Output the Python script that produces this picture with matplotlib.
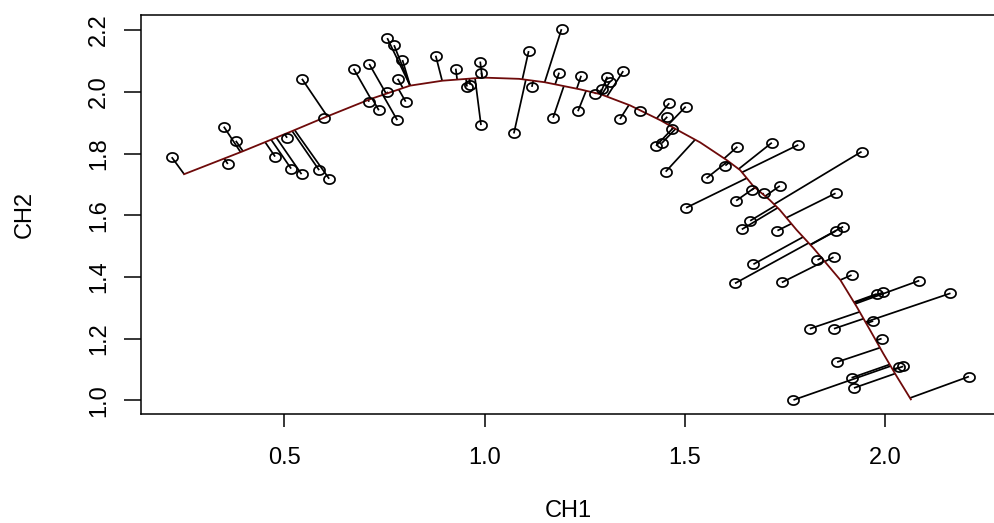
import numpy as np
import matplotlib
matplotlib.use("Agg")
import matplotlib.pyplot as plt
from matplotlib.path import Path
from matplotlib.collections import LineCollection

# observed points (CH1, CH2)
ch1 = [0.219, 0.349, 0.379, 0.359, 0.477, 0.517, 0.543, 0.507, 0.587, 0.612,
       0.544, 0.598, 0.673, 0.712, 0.736, 0.712, 0.782, 0.756, 0.783, 0.803,
       0.757, 0.774, 0.795, 0.878, 0.928, 0.956, 0.964, 0.989, 0.992, 0.991,
       1.073, 1.110, 1.118, 1.192, 1.186, 1.171, 1.241, 1.233, 1.276, 1.292,
       1.306, 1.313, 1.346, 1.338, 1.388, 1.461, 1.456, 1.502, 1.467, 1.428,
       1.442, 1.631, 1.452, 1.554, 1.601, 1.503, 1.717, 1.783, 1.628, 1.667,
       1.697, 1.737, 1.663, 1.642, 1.731, 1.941, 1.876, 1.895, 1.877, 1.671,
       1.625, 1.742, 1.831, 1.871, 1.916, 1.979, 1.995, 2.085, 1.812, 1.872,
       1.970, 2.163, 1.991, 1.880, 1.916, 1.922, 1.771, 2.035, 2.045, 2.209]
ch2 = [1.788, 1.887, 1.841, 1.766, 1.790, 1.751, 1.733, 1.851, 1.746, 1.718,
       2.042, 1.916, 2.075, 2.090, 1.940, 1.968, 1.908, 2.000, 2.042, 1.968,
       2.174, 2.151, 2.103, 2.117, 2.075, 2.017, 2.023, 2.098, 2.062, 1.892,
       1.865, 2.132, 2.016, 2.203, 2.062, 1.916, 2.052, 1.937, 1.993, 2.009,
       2.049, 2.033, 2.067, 1.912, 1.939, 1.963, 1.919, 1.952, 1.879, 1.825,
       1.833, 1.822, 1.741, 1.720, 1.761, 1.624, 1.835, 1.828, 1.647, 1.682,
       1.671, 1.695, 1.582, 1.554, 1.550, 1.806, 1.671, 1.563, 1.549, 1.441,
       1.379, 1.382, 1.455, 1.464, 1.406, 1.345, 1.350, 1.388, 1.232, 1.232,
       1.257, 1.347, 1.200, 1.124, 1.073, 1.040, 1.001, 1.107, 1.110, 1.077]

# fitted principal curve (ordered vertices)
curve_x = [0.250, 0.394, 0.522, 0.599, 0.714, 0.814, 0.895, 0.997, 1.086, 1.150,
           1.238, 1.290, 1.363, 1.440, 1.490, 1.538, 1.604, 1.638, 1.671, 1.712,
           1.737, 1.779, 1.821, 1.888, 1.929, 1.962, 1.995, 2.029, 2.064]
curve_y = [1.733, 1.806, 1.874, 1.916, 1.976, 2.020, 2.036, 2.046, 2.042, 2.031,
           2.008, 1.992, 1.956, 1.907, 1.870, 1.836, 1.779, 1.746, 1.694, 1.649,
           1.617, 1.552, 1.493, 1.390, 1.303, 1.228, 1.152, 1.077, 1.003]

xticks = [0.5, 1.0, 1.5, 2.0]
xtick_labels = ["0.5", "1.0", "1.5", "2.0"]
yticks = [1.0, 1.2, 1.4, 1.6, 1.8, 2.0, 2.2]
ytick_labels = ["1.0", "1.2", "1.4", "1.6", "1.8", "2.0", "2.2"]


def project(px, py, cx, cy):
    cx = np.asarray(cx); cy = np.asarray(cy)
    ax0, ay0 = cx[:-1], cy[:-1]
    dx, dy = np.diff(cx), np.diff(cy)
    L2 = dx * dx + dy * dy
    t = np.clip(((px - ax0) * dx + (py - ay0) * dy) / L2, 0, 1)
    fx, fy = ax0 + t * dx, ay0 + t * dy
    d = (fx - px) ** 2 + (fy - py) ** 2
    i = np.argmin(d)
    return fx[i], fy[i]


plt.rcParams['font.family'] = ['Liberation Sans', 'DejaVu Sans']

W, H = 995, 523
fig = plt.figure(figsize=(W / 100, H / 100), dpi=100)
L, R, T, B = 141, 998, 15, 414
ax = fig.add_axes([L / W, (H - B) / H, (R - L) / W, (B - T) / H])

# whiskers
segs = []
for px, py in zip(ch1, ch2):
    fx, fy = project(px, py, curve_x, curve_y)
    segs.append([(px, py), (fx, fy)])
ax.add_collection(LineCollection(segs, colors='black', linewidths=1.25, zorder=2))

# curve
ax.plot(curve_x, curve_y, color='#6e0a0a', lw=1.3, zorder=3)

# points (slightly flattened circles as in the reference)
th = np.linspace(0, 2 * np.pi, 60)
ell = Path(np.column_stack([np.cos(th), 0.82 * np.sin(th)]))
ax.plot(ch1, ch2, linestyle='none', marker=ell, markersize=8.0,
        markerfacecolor='none', markeredgecolor='black', markeredgewidth=1.25, zorder=4)

x_per_px = 1 / 400.6
y_per_px = 1 / 308.5
ax.set_xlim(0.5 + (L - 284.3) * x_per_px, 0.5 + (R - 284.3) * x_per_px)
ax.set_ylim(1.0 - (B - 400.3) * y_per_px, 1.0 + (400.3 - T) * y_per_px)

ax.set_xticks(xticks)
ax.set_xticklabels(xtick_labels)
ax.set_yticks(yticks)
ax.set_yticklabels(ytick_labels, rotation=90, va='center')
ax.tick_params(axis='x', length=9.4, width=1.1, pad=14, labelsize=17, direction='out')
ax.tick_params(axis='y', length=12.2, width=1.1, pad=10, labelsize=17, direction='out')
for s in ax.spines.values():
    s.set_linewidth(1.1)

ax.set_xlabel("CH1", fontsize=17)
ax.set_ylabel("CH2", fontsize=17)
ax.xaxis.label.set_verticalalignment('center')
ax.yaxis.label.set_verticalalignment('center')
ax.xaxis.set_label_coords((568 - L) / (R - L), (B - 511) / (B - T))
ax.yaxis.set_label_coords((25 - L) / (R - L), 0.5)

fig.savefig("out.png", dpi=100)
